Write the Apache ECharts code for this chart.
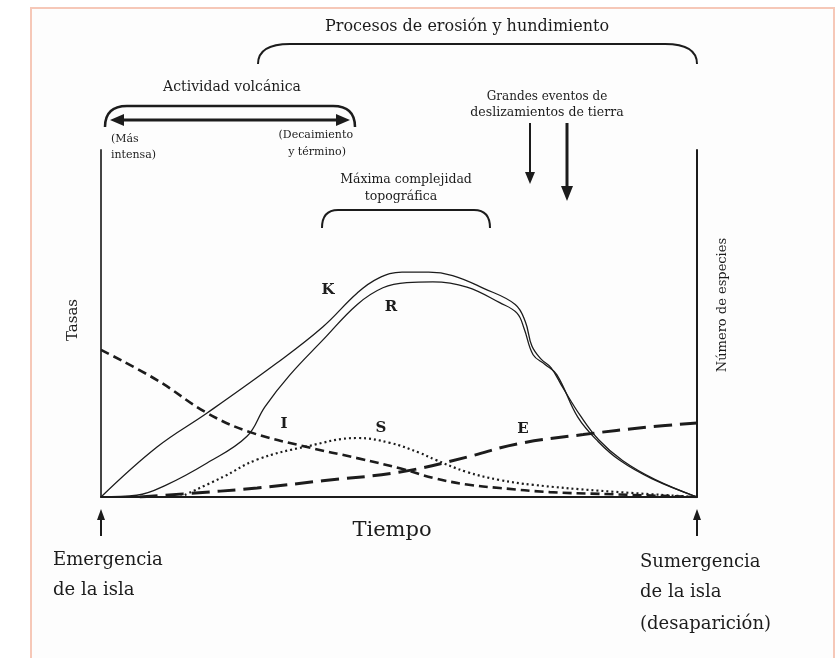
<!DOCTYPE html>
<html lang="es">
<head>
<meta charset="UTF-8">
<title>Tasas y número de especies</title>
<style>
  * { margin: 0; }
  html, body, #chart { width: 836px; height: 658px; background: #fff; }
</style>
</head>
<body>
<div id="chart"></div>
<script src="https://cdn.jsdelivr.net/npm/echarts@6/dist/echarts.min.js"></script>
<script>
// tiempo (0-100) vs tasa (0-100)
var curveK = [[0,0],[9.4,14.4],[17.8,24.2],[29.5,38.6],[37.2,49.0],[43.0,58.8],[46.5,63.0],[50.5,64.8],[55,64.8],[59,63.8],[64.1,60.2],[69.5,55.5],[71.2,50.5],[72.3,43.5],[73.8,39.8],[75.5,37.3],[77.5,31.5],[80.4,23.5],[83.5,16.5],[87.5,10.5],[93,5],[100,0]];
var curveR = [[0,0],[6,0.5],[11,3.5],[17.8,9.8],[24.5,17.5],[27.5,26],[31.7,35.2],[37.2,45.2],[43.0,55.5],[47.3,60.3],[51.3,61.8],[55.7,62.0],[61.4,60.5],[66.9,56],[69.8,53.0],[71.0,48.5],[72.5,41.0],[74.5,38.2],[76.5,35.2],[80.0,23],[83.4,16],[87.1,10.5],[92.4,5.3],[100,0]];
var curveI = [[0,42.4],[9.4,33.7],[17.8,24.2],[25.0,18.7],[34.6,14.4],[43.0,11.2],[50.3,8.2],[55.7,5.5],[61.4,3.6],[66.9,2.6],[75.3,1.4],[83.7,0.9],[100,0]];
var curveS = [[13.3,0],[20.5,5.8],[26.2,10.8],[34.6,14.6],[43.0,17.0],[48.5,15.6],[53.5,12.7],[56,10.8],[61.4,7.2],[66.9,4.9],[72.5,3.5],[83.7,1.8],[100,0]];
var curveE = [[6.5,0],[13.8,0.9],[26.2,2.6],[37.2,4.7],[50.2,7.2],[61.4,11.5],[69.8,15.3],[80.9,18.0],[92.1,20.2],[100,21.3]];

var curveNames = ['K', 'R', 'I', 'S', 'E'];

var chart = echarts.init(document.getElementById('chart'));
var serif = 'DejaVu Serif';
var ink = '#1c1c1c';

function txt(str, x, y, size, align, extra, weight) {
    var o = {
        type: 'text', x: x, y: y, z: 10,
        style: { text: str, font: (weight || 'normal') + ' ' + size + 'px "' + serif + '"', fill: ink, align: align || 'center', verticalAlign: 'middle' }
    };
    if (extra) for (var k in extra) o[k] = extra[k];
    return o;
}
function seg(x1, y1, x2, y2, w) {
    return { type: 'line', z: 10, shape: { x1: x1, y1: y1, x2: x2, y2: y2 }, style: { stroke: ink, lineWidth: w } };
}
function curve(x1, y1, cx, cy, x2, y2, w) {
    return { type: 'bezierCurve', z: 10, shape: { x1: x1, y1: y1, cpx1: cx, cpy1: cy, x2: x2, y2: y2 }, style: { stroke: ink, lineWidth: w, fill: null } };
}
function head(pts) {
    return { type: 'polygon', z: 10, shape: { points: pts }, style: { fill: ink } };
}
function bracket(xl, xr, top, bottom, r, w) {
    return [
        curve(xl, bottom, xl, top, xl + r, top, w),
        seg(xl + r, top, xr - r, top, w),
        curve(xr - r, top, xr, top, xr, bottom, w)
    ];
}

var graphics = [
    { type: 'rect', z: -10, shape: { x: 31, y: 8, width: 803, height: 660 }, style: { fill: '#fdfdfd', stroke: '#f6c8b8', lineWidth: 2 } },
    txt('Procesos de erosión y hundimiento', 467, 27, 16),
    txt('Actividad volcánica', 232, 87, 14),
    txt('(Más', 111, 139, 11, 'left'),
    txt('intensa)', 111, 155, 11, 'left'),
    txt('(Decaimiento', 353, 135, 11, 'right'),
    txt('y término)', 346, 152, 11, 'right'),
    txt('Grandes eventos de', 547, 97, 12),
    txt('deslizamientos de tierra', 547, 113, 12.5),
    txt('Máxima complejidad', 406, 180, 12.5),
    txt('topográfica', 401, 197, 12.5),
    txt('Tasas', 73, 320, 15, 'center', { rotation: Math.PI / 2 }),
    txt('Número de especies', 723, 305, 13, 'center', { rotation: Math.PI / 2 }),
    txt('Tiempo', 392, 531, 21),
    txt('Emergencia', 53, 560, 18, 'left'),
    txt('de la isla', 53, 590, 18, 'left'),
    txt('Sumergencia', 640, 562, 18, 'left'),
    txt('de la isla', 640, 592, 18, 'left'),
    txt('(desaparición)', 640, 624, 18, 'left'),
    // double arrow
    seg(122, 120, 338, 120, 3),
    head([[110, 120], [124, 114], [124, 126]]),
    head([[350, 120], [336, 114], [336, 126]]),
    // landslide arrows
    seg(530, 123, 530, 174, 2),
    head([[530, 184], [525, 172], [535, 172]]),
    seg(567, 123, 567, 188, 3),
    head([[567, 201], [561, 186], [573, 186]]),
    // emergence / submergence arrows
    seg(101, 517, 101, 536, 2),
    head([[101, 509], [97, 520], [105, 520]]),
    seg(697, 517, 697, 536, 2),
    head([[697, 509], [693, 520], [701, 520]])
];
graphics = graphics
    .concat(bracket(258, 697, 44, 64, 32, 2))
    .concat(bracket(105, 355, 106, 127, 22, 2.5))
    .concat(bracket(322, 490, 210, 228, 16, 2));

var labelPos = { K: [328, 290], R: [391, 307], I: [284, 424], S: [381, 428], E: [523, 429] };
curveNames.forEach(function (n) {
    graphics.push(txt(n, labelPos[n][0], labelPos[n][1], 15, 'center', null, 'bold'));
});

function lineSeries(name, data, width, type) {
    return {
        name: name, type: 'line', data: data, showSymbol: false, smooth: 0.4,
        lineStyle: { color: ink, width: width, type: type }, silent: true, animation: false
    };
}

var option = {
    backgroundColor: '#ffffff',
    animation: false,
    grid: { left: 101, right: 139, top: 150, bottom: 161 },
    xAxis: {
        type: 'value', min: 0, max: 100,
        axisLine: { show: true, lineStyle: { color: ink, width: 2 } },
        axisTick: { show: false }, axisLabel: { show: false }, splitLine: { show: false }
    },
    yAxis: [
        {
            type: 'value', min: 0, max: 100, position: 'left',
            axisLine: { show: true, lineStyle: { color: '#444', width: 2 } },
            axisTick: { show: false }, axisLabel: { show: false }, splitLine: { show: false }
        },
        {
            type: 'value', min: 0, max: 100, position: 'right',
            axisLine: { show: true, lineStyle: { color: ink, width: 2 } },
            axisTick: { show: false }, axisLabel: { show: false }, splitLine: { show: false }
        }
    ],
    series: [
        lineSeries('K', curveK, 1.3, 'solid'),
        lineSeries('R', curveR, 1.3, 'solid'),
        lineSeries('I', curveI, 2.6, [9, 5]),
        lineSeries('S', curveS, 2.2, [2, 3]),
        lineSeries('E', curveE, 3, [18, 8])
    ],
    graphic: graphics
};
chart.setOption(option);
</script>
</body>
</html>
